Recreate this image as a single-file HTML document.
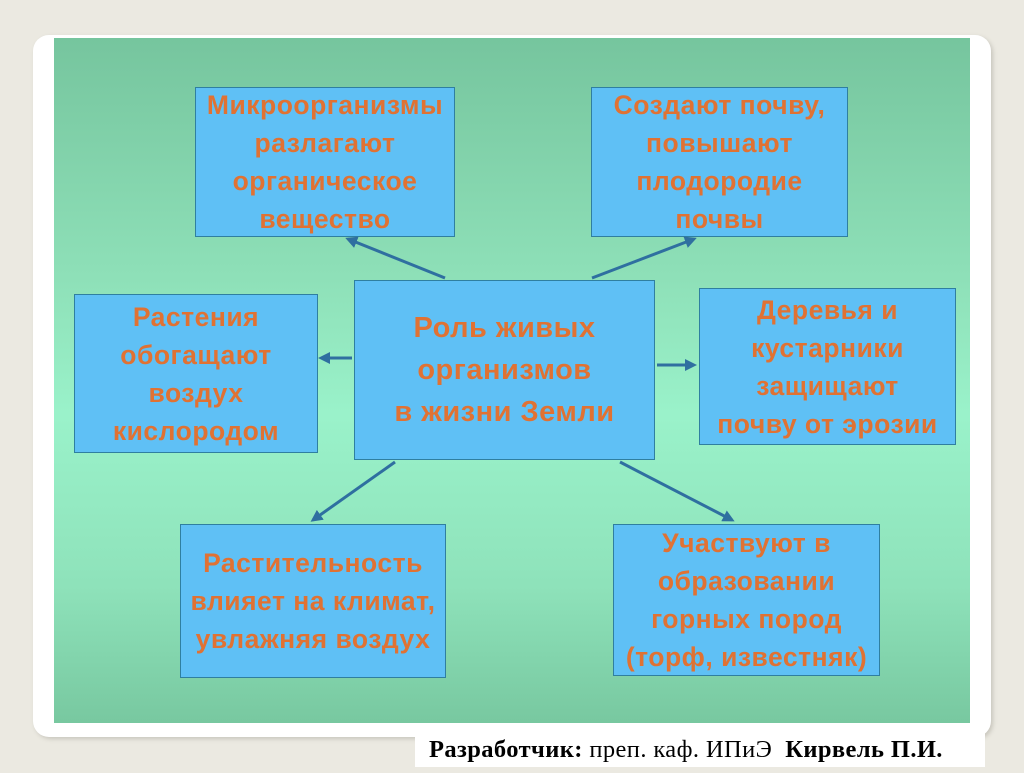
<!DOCTYPE html>
<html><head><meta charset="utf-8"><style>
body{margin:0;width:1024px;height:767px;background:#ebe9e1;position:relative;overflow:hidden;font-family:"Liberation Sans","DejaVu Sans",sans-serif}
.card{position:absolute;left:33px;top:35px;width:958px;height:702px;background:#fff;border-radius:16px;box-shadow:2px 2px 4px #c8c6bd}
.panel{position:absolute;left:54px;top:38px;width:916px;height:685px;background:linear-gradient(#76c59e 0%,#8ee0b8 35%,#9af2ca 55%,#8ee2ba 80%,#78c8a0 100%)}
.b{position:absolute;background:#5fc0f5;border:1px solid #2f7fa0;box-sizing:border-box;display:flex;align-items:center;justify-content:center;text-align:center;color:#e07233;font-weight:bold;font-size:26.5px;line-height:38px;white-space:nowrap;letter-spacing:0.5px}
.foot{position:absolute;left:415px;top:727px;width:570px;height:40px;background:#fff;font-family:"Liberation Serif",serif;font-size:24.5px;line-height:46px;padding-left:14px;box-sizing:border-box;letter-spacing:0.4px}
svg{position:absolute;left:0;top:0}
</style></head><body>
<div class="card"></div>
<div class="panel"></div>
<div class="b" style="left:195px;top:87px;width:260px;height:150px">Микроорганизмы<br>разлагают<br>органическое<br>вещество</div>
<div class="b" style="left:591px;top:87px;width:257px;height:150px">Создают почву,<br>повышают<br>плодородие<br>почвы</div>
<div class="b" style="left:74px;top:294px;width:244px;height:159px">Растения<br>обогащают<br>воздух<br>кислородом</div>
<div class="b" style="left:354px;top:280px;width:301px;height:180px;font-size:29px;line-height:42px">Роль живых<br>организмов<br>в жизни Земли</div>
<div class="b" style="left:699px;top:288px;width:257px;height:157px">Деревья и<br>кустарники<br>защищают<br>почву от эрозии</div>
<div class="b" style="left:180px;top:524px;width:266px;height:154px">Растительность<br>влияет на климат,<br>увлажняя воздух</div>
<div class="b" style="left:613px;top:524px;width:267px;height:152px">Участвуют в<br>образовании<br>горных пород<br>(торф, известняк)</div>
<svg width="1024" height="767">
<defs><marker id="a" markerWidth="12" markerHeight="12" refX="9" refY="6" orient="auto" markerUnits="userSpaceOnUse"><path d="M0,0 L12,6 L0,12 Z" fill="#2f6fa0"/></marker></defs>
<g stroke="#2f6fa0" stroke-width="3" marker-end="url(#a)">
<line x1="445" y1="278" x2="348" y2="239"/>
<line x1="592" y1="278" x2="694" y2="239"/>
<line x1="352" y1="358" x2="321" y2="358"/>
<line x1="657" y1="365" x2="694" y2="365"/>
<line x1="395" y1="462" x2="313" y2="520"/>
<line x1="620" y1="462" x2="732" y2="520"/>
</g></svg>
<div class="foot"><b>Разработчик:</b> преп. каф. ИПиЭ &nbsp;<b>Кирвель П.И.</b></div>
</body></html>
